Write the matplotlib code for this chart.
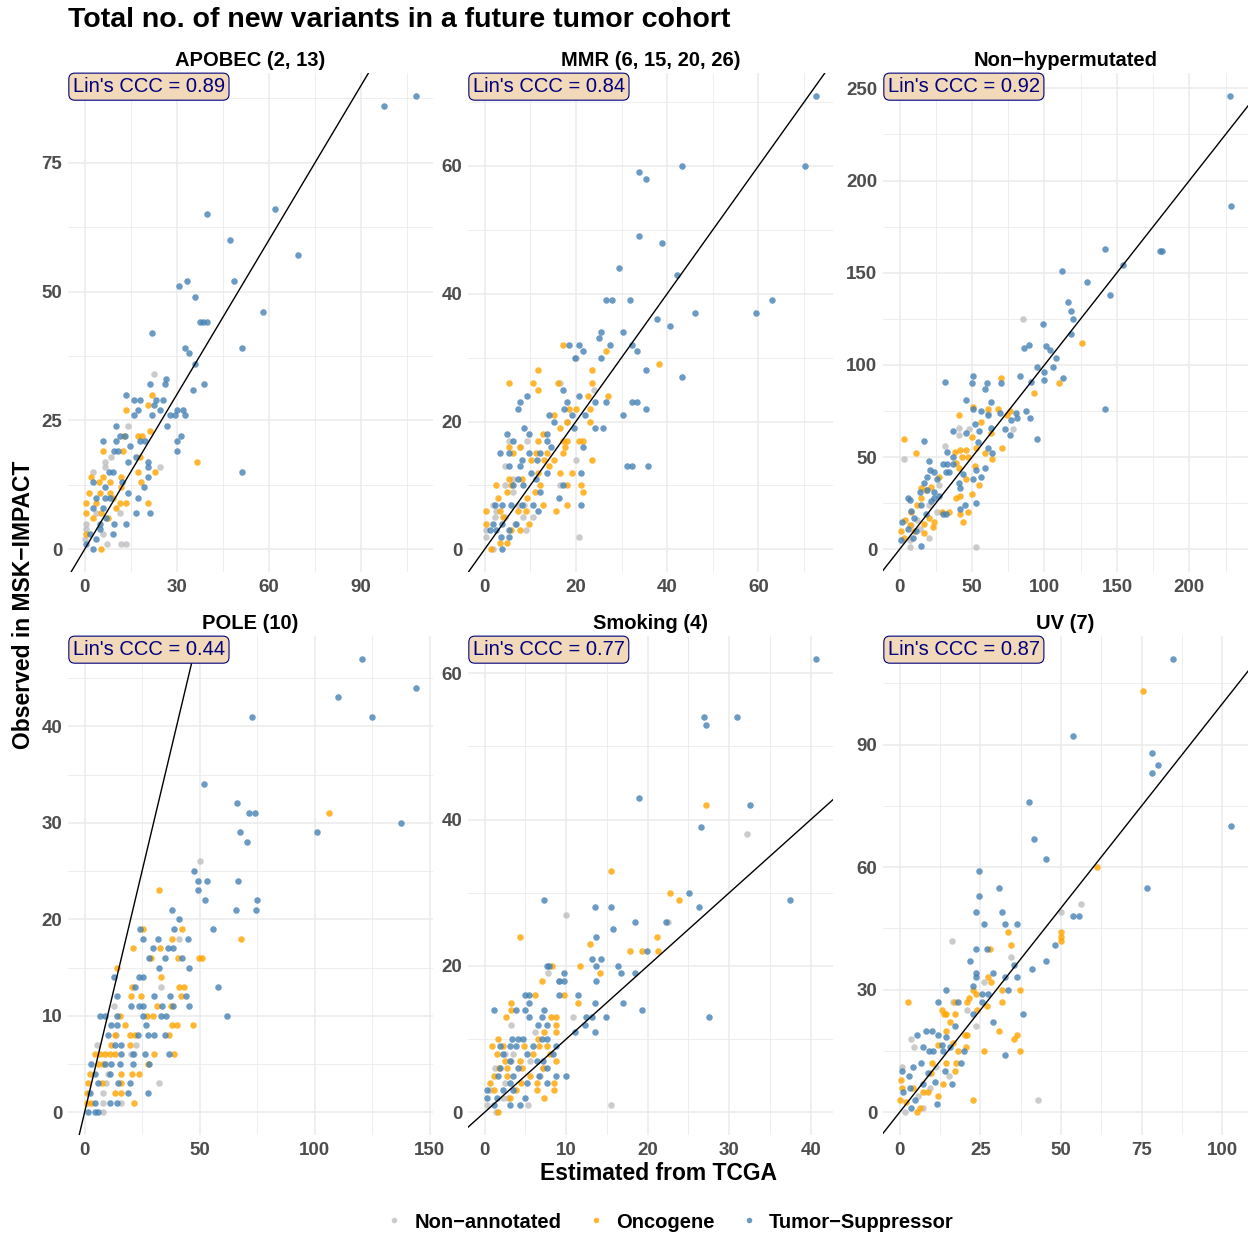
import numpy as np
import matplotlib
matplotlib.use("Agg")
import matplotlib.pyplot as plt
from matplotlib.ticker import FixedLocator, AutoMinorLocator
from matplotlib.lines import Line2D

plt.rcParams['font.family'] = ['Liberation Sans', 'DejaVu Sans']

# categories and colours
categories = ['Non\u2212annotated', 'Oncogene', 'Tumor\u2212Suppressor']
cat_colors = ['#BEBEBE', '#FFA500', '#4682B4']

panel_titles = ['APOBEC (2, 13)', 'MMR (6, 15, 20, 26)', 'Non\u2212hypermutated',
                'POLE (10)', 'Smoking (4)', 'UV (7)']
ccc_values = [0.89, 0.84, 0.92, 0.44, 0.77, 0.87]
x_ticks = [[0, 30, 60, 90], [0, 20, 40, 60], [0, 50, 100, 150, 200],
           [0, 50, 100, 150], [0, 10, 20, 30, 40], [0, 25, 50, 75, 100]]
y_ticks = [[0, 25, 50, 75], [0, 20, 40, 60], [0, 50, 100, 150, 200, 250],
           [0, 10, 20, 30, 40], [0, 20, 40, 60], [0, 30, 60, 90]]

apobec_na = [(22.7, 34), (14, 24), (24.7, 16), (8.7, 18), (6.7, 17), (6.7, 16), (2.7, 15), (12, 1), (13.4, 1),
             (7.4, 1), (0.5, 5), (0.5, 4), (3.6, 7), (11.4, 7), (0, 2), (6, 3)]
apobec_onc = [(36.7, 17), (22.1, 30), (13.4, 27), (20.7, 28), (21.3, 23), (17.4, 22), (18.7, 22), (12.8, 22),
              (6, 19), (12.5, 19), (17.9, 18), (22.8, 15), (17.4, 15), (2.2, 14), (6, 14), (4.6, 13), (8.2, 13),
              (18.5, 13), (12, 14), (12, 12), (1.4, 11), (4.9, 11), (8.2, 11), (20.7, 9), (0.5, 9), (3.8, 9),
              (0.5, 7), (5.4, 7), (2.7, 6), (7.6, 6), (0.5, 3), (5.4, 0), (11.4, 9), (13.6, 9), (9.2, 10), (10.3, 8)]
apobec_ts = [(108, 88), (97.3, 86), (62, 66), (40, 65), (47.4, 60), (69.3, 57), (30.8, 51), (33.3, 52), (48.7, 52),
             (36, 49), (58, 46), (22, 42), (37.5, 44), (38.6, 44), (40, 44), (32.7, 39), (34.1, 38), (51.3, 39),
             (36, 36), (26.6, 33), (26.1, 32), (21.3, 32), (35.3, 31), (38.8, 32), (13.4, 30), (16, 29), (17.9, 29),
             (23.4, 29), (25.4, 29), (22.7, 28), (24.7, 27), (17.4, 27), (16, 26), (22.1, 26), (27.7, 26), (29.3, 26),
             (30, 27), (32.1, 27), (32.7, 26), (26.7, 24), (10.1, 24), (11.4, 22), (13.2, 22), (6.1, 21), (10.1, 21),
             (17.9, 21), (19.6, 21), (31.4, 22), (30, 21), (30, 19), (51.3, 15), (14.7, 20), (9.6, 19), (10.9, 19),
             (16.8, 18), (14, 17), (20.7, 17), (20.7, 16), (20.7, 14), (19.3, 12), (17.4, 10), (16.8, 7), (21.3, 7),
             (14, 11), (7.9, 15), (9.2, 15), (2.7, 13), (3.6, 10), (6.5, 10), (8.2, 10), (2.7, 8), (6, 8), (9.5, 5),
             (2.7, 0), (0.5, 1), (1.6, 3), (4.9, 4), (3.8, 2), (9.2, 3), (6.7, 12), (12.3, 13), (7, 6), (4.9, 5),
             (13.4, 5)]

mmr_na = [(20, 30), (16.6, 26), (23.9, 25), (18.1, 20), (5.3, 17), (7.8, 16), (9.3, 17), (20, 14), (4.4, 13),
          (6.3, 11), (4.4, 10), (16.6, 10), (6.3, 9), (1.8, 7), (7.4, 7), (8.7, 7), (10.7, 5), (2.2, 5), (4.4, 5),
          (8.4, 5), (0.4, 3), (0.4, 2), (9, 3), (1.8, 0), (20.6, 2), (2.4, 6), (6.6, 4)]
mmr_onc = [(17.1, 32), (26.5, 31), (38.3, 29), (11.7, 28), (23.5, 28), (5.3, 26), (10.7, 26), (16.1, 26),
           (23.5, 26), (11.7, 25), (22.6, 24), (27, 24), (20, 22), (18.6, 22), (23, 22), (15.2, 21), (23, 20),
           (18.1, 20), (16.6, 19), (12.7, 18), (11.7, 17), (20.6, 17), (21.6, 17), (17.1, 17), (18.1, 17), (5.3, 16),
           (7.8, 16), (17.6, 16), (6.3, 15), (11.2, 15), (13.6, 15), (17.1, 15), (23.5, 14), (10.2, 14), (13.1, 14),
           (15.2, 14), (14.1, 13), (11.7, 12), (16.6, 12), (19.1, 12), (8.3, 11), (5.3, 11), (2.4, 10), (5.8, 10),
           (12.2, 10), (18.1, 10), (21.1, 10), (21.6, 9), (2.9, 8), (4.9, 9), (9.2, 8), (11.1, 9), (18.1, 7),
           (15.7, 6), (12.8, 7), (0.4, 6), (3.3, 6), (7.3, 6), (9.1, 6), (9.8, 4), (0.4, 4), (5.8, 3), (7.7, 3),
           (3.3, 1), (4.9, 1), (1.3, 0), (4, 5)]
mmr_ts = [(72.7, 71), (70.3, 60), (43.2, 60), (33.9, 59), (35.3, 58), (33.9, 49), (38.8, 48), (29.4, 44), (42.2, 43),
          (26.5, 39), (28, 39), (31.9, 39), (62.9, 39), (46.1, 37), (59.5, 37), (37.8, 36), (40.7, 35), (30.4, 34),
          (25.5, 34), (25, 33), (27.5, 32), (32.4, 32), (18.6, 32), (20.6, 32), (21.6, 31), (33.4, 31), (19.7, 30),
          (25.5, 30), (35.4, 28), (43.2, 27), (17.1, 25), (20.6, 24), (9.3, 24), (7.8, 23), (7.3, 22), (18.1, 23),
          (17.3, 22), (24.1, 23), (26.5, 23), (32.4, 23), (33.4, 23), (35.4, 22), (30.4, 21), (14.2, 21), (19.2, 21),
          (15.2, 20), (21.9, 21), (24.1, 19), (26, 19), (19.5, 19), (8.7, 19), (4.9, 18), (9.7, 18), (13.7, 18),
          (13.7, 17), (6.2, 17), (21.5, 16), (14.6, 16), (3.3, 15), (5.3, 15), (9.7, 15), (12.2, 15), (8.2, 14),
          (11.4, 14), (31.3, 13), (32.4, 13), (35.8, 13), (5.3, 13), (7.8, 13), (21.1, 12), (10.2, 12), (13.7, 12),
          (7.3, 11), (11.3, 11), (12.2, 9), (16.2, 8), (17.1, 10), (21.1, 7), (2.3, 7), (3.9, 7), (5.8, 7), (8.2, 7),
          (10.6, 7), (11.7, 6), (1.8, 4), (3.9, 4), (5.3, 3), (3.6, 2), (5.3, 2), (3.9, 0), (2.4, 3), (1.1, 3),
          (6.2, 10), (8.4, 10), (6.9, 4)]

nonhyp_na = [(85, 125), (3, 49), (31, 56), (41, 66), (41, 62), (48, 65), (78, 65), (61, 74), (53, 1), (7, 1),
             (20, 6), (26, 20), (27, 35), (14, 11), (8, 13), (7, 5), (12, 16), (20, 24)]
nonhyp_onc = [(126, 112), (110, 90), (93, 85), (70, 93), (51, 77), (61, 76), (68, 76), (76, 75), (74, 73), (41, 73),
              (56, 69), (63, 63), (50, 61), (53, 55), (71, 55), (3, 60), (11, 52), (59, 52), (64, 49), (38, 53),
              (42, 54), (46, 54), (43, 50), (47, 50), (39, 47), (52, 45), (41, 44), (46, 38), (55, 35), (27, 39),
              (22, 34), (15, 33), (18, 32), (50, 30), (42, 29), (39, 28), (47, 20), (42, 19), (44, 15), (15, 28),
              (12, 24), (8, 20), (20, 17), (17, 14), (23, 12), (24, 15), (4, 16), (1, 10), (10, 10), (3, 6), (17, 9),
              (29, 20), (34, 20), (7, 13)]
nonhyp_ts = [(228, 246), (229, 186), (142, 163), (180, 162), (181, 162), (154, 154), (112, 151), (129, 145),
             (145, 138), (116, 134), (118, 129), (120, 125), (118, 117), (99, 122), (86, 109), (89, 111), (101, 110),
             (104, 108), (108, 104), (95, 99), (106, 99), (100, 96), (100, 92), (113, 93), (83, 94), (91, 91),
             (51, 94), (50, 90), (60, 90), (59, 87), (70, 90), (31, 91), (46, 81), (63, 80), (142, 76), (51, 76),
             (56, 75), (69, 74), (61, 73), (80, 74), (87, 75), (81, 71), (90, 71), (77, 70), (52, 68), (63, 66),
             (73, 65), (55, 64), (37, 64), (46, 63), (76, 62), (95, 60), (17, 59), (54, 58), (61, 55), (64, 52),
             (59, 44), (20, 48), (33, 53), (37, 50), (30, 46), (33, 46), (37, 46), (53, 43), (56, 39), (51, 38),
             (44, 41), (41, 36), (42, 33), (17, 36), (21, 43), (24, 42), (32, 42), (34, 42), (19, 39), (26, 38),
             (53, 25), (45, 24), (42, 22), (30, 19), (32, 19), (6, 28), (7, 27), (14, 31), (19, 32), (24, 31),
             (24, 28), (15, 24), (8, 21), (2, 15), (6, 11), (1, 5), (9, 6), (15, 2), (11, 10), (22, 26), (27, 29),
             (10, 17), (18, 19)]

pole_na = [(50.1, 26), (41.1, 18), (33.3, 13), (12.7, 11), (5.2, 7), (22.5, 7), (13.6, 8), (20.3, 6), (10.2, 4),
           (32.3, 3), (8.1, 2), (16, 1), (8.1, 1), (8.1, 0), (21.5, 6), (9.5, 3)]
pole_onc = [(106.2, 31), (32.2, 23), (68, 18), (25.3, 19), (20.9, 17), (32.8, 17), (38.1, 18), (42.3, 19), (14, 15),
            (33.3, 14), (20.8, 13), (28.7, 16), (40.5, 16), (49.6, 16), (50.9, 16), (41, 13), (43.1, 13), (20.3, 12),
            (24.4, 12), (42, 12), (31.5, 11), (37.7, 11), (15.2, 10), (27, 10), (29.9, 10), (17.7, 9), (37.8, 9),
            (40.3, 9), (47.3, 9), (13.1, 8), (19.6, 8), (21.8, 8), (36.8, 8), (11.7, 7), (19.6, 7), (4.5, 6),
            (6.6, 6), (8.8, 6), (11, 6), (13.1, 6), (30.2, 6), (38.8, 6), (5.9, 5), (8.1, 5), (27.6, 5), (2.3, 4),
            (15.7, 4), (20.6, 4), (23.5, 4), (1.6, 3), (7.4, 3), (16, 3), (0.9, 2), (13.1, 2), (16, 2), (0.9, 1),
            (3, 1), (21.5, 1)]
pole_ts = [(120.6, 47), (144.3, 44), (110, 43), (125, 41), (72.6, 41), (51.8, 34), (66.2, 32), (71.6, 31), (73.9, 31),
           (137.7, 30), (100.9, 29), (67.5, 29), (70.6, 28), (47.5, 25), (49.4, 24), (53.2, 24), (66.7, 24),
           (49.4, 23), (52.4, 22), (75, 22), (38.2, 21), (65.7, 21), (74.5, 21), (41.1, 20), (38.7, 19), (55.8, 19),
           (24.2, 19), (25.5, 18), (31.9, 18), (44.9, 18), (29.9, 17), (36.2, 17), (38.4, 17), (28, 16), (34.8, 16),
           (42.3, 16), (32.3, 15), (45.5, 15), (23.8, 14), (25.5, 14), (12.6, 14), (57.9, 13), (21.8, 13),
           (13.9, 12), (30.3, 12), (37.2, 12), (44.2, 12), (20, 11), (23.5, 11), (25.5, 11), (33.8, 11), (38.4, 11),
           (45.6, 11), (6.8, 10), (8.8, 10), (13.9, 10), (25.5, 10), (33.3, 10), (35.5, 10), (61.8, 10), (11.7, 9),
           (13.9, 9), (26.6, 9), (10, 8), (23.2, 8), (27.6, 8), (30.4, 8), (34.8, 8), (13.1, 7), (16, 7), (26.4, 6),
           (36.7, 6), (16, 6), (21.1, 6), (3, 5), (8.8, 5), (11.7, 5), (15.3, 5), (21.1, 5), (28, 5), (4.5, 4),
           (11, 4), (5.9, 3), (14.6, 3), (19.6, 3), (27.4, 2), (2.3, 2), (18.9, 2), (4.5, 1), (11, 1), (13.9, 1),
           (1.6, 0), (4.5, 0), (5.9, 0)]

smoking_na = [(32.2, 38), (10, 27), (22.5, 26), (7.8, 19), (9.1, 18), (10.9, 13), (3.2, 12), (6.2, 11), (2.5, 8),
              (3.5, 8), (3.2, 7), (5.6, 7), (1.3, 6), (7.2, 6), (6.8, 5), (2.5, 4), (0.7, 3), (2.3, 2), (2.9, 2),
              (15.5, 1), (5.3, 1), (1.4, 0), (0.3, 1)]
smoking_onc = [(27.2, 42), (15.5, 33), (22.8, 30), (23.9, 29), (4.4, 24), (21.1, 24), (12.9, 23), (17.8, 22),
               (19.3, 22), (21.3, 22), (11.7, 20), (14.1, 19), (8.3, 20), (7, 18), (9.7, 16), (6.2, 16), (11.4, 15),
               (3.2, 15), (3.2, 14), (2.6, 13), (8.2, 13), (8.8, 13), (8.8, 12), (7.3, 11), (8.8, 11), (1.7, 10),
               (6.5, 10), (0.9, 9), (2.3, 9), (4.8, 9), (6.7, 9), (7.6, 9), (1.5, 8), (5.9, 8), (8, 8), (2.5, 7),
               (4.3, 7), (8.8, 7), (1.8, 6), (2.7, 6), (4.6, 6), (7.2, 6), (1.1, 5), (2.7, 5), (5.6, 5), (0.7, 4),
               (4.5, 4), (6.4, 4), (8.5, 4), (1.1, 3), (3.9, 3), (6.4, 3), (8.5, 3), (7.3, 2), (1.7, 0), (3.1, 2)]
smoking_ts = [(40.7, 62), (26.9, 54), (27.2, 53), (31, 54), (19, 43), (32.5, 42), (26.6, 39), (37.4, 29), (25.1, 30),
              (26.3, 28), (13.5, 28), (15.5, 28), (7.3, 29), (18.5, 26), (22.2, 26), (15.8, 25), (13.7, 24),
              (19.9, 22), (13.2, 21), (14.3, 21), (16.4, 20), (13.7, 20), (16.7, 19), (18.5, 19), (13.7, 18),
              (9.7, 19), (9.8, 18), (7.6, 20), (7.9, 20), (9.1, 18), (9.1, 16), (11.4, 16), (13.5, 15), (17, 15),
              (19.3, 14), (27.5, 13), (14.9, 13), (12.4, 13), (13.2, 13), (12.3, 12), (11.1, 11), (13.5, 11), (5, 16),
              (5.5, 16), (5.5, 15), (3.9, 14), (5, 14), (7.3, 14), (1.2, 14), (5.5, 13), (7, 13), (6.5, 12),
              (7.6, 12), (3.4, 10), (4.1, 10), (4.7, 10), (7, 10), (7.6, 10), (1.9, 9), (3.1, 9), (3.9, 9), (5.9, 9),
              (8.8, 9), (2.3, 8), (5.2, 8), (8.4, 8), (3.1, 7), (6.4, 7), (7.2, 7), (1.9, 6), (4.1, 6), (7.6, 6),
              (8.8, 5), (10, 5), (1.7, 5), (3.5, 5), (6.7, 5), (3.1, 4), (5.2, 4), (7.6, 4), (0.3, 3), (2.3, 3),
              (3.5, 3), (0.3, 2), (1.5, 2), (5, 2), (1.1, 1), (3.1, 1), (4.4, 1)]

uv_na = [(16.3, 42), (56.3, 51), (50, 49), (34.5, 38), (26.3, 32), (16.5, 27), (21, 25), (23.7, 21), (3.5, 18),
         (4.5, 16), (15.4, 9), (11.4, 11), (42.8, 3), (1.6, 0), (9.3, 6), (5.7, 4), (0.7, 11), (7.1, 1)]
uv_onc = [(75.5, 103), (61.1, 60), (33.6, 44), (34.5, 41), (28.1, 40), (50, 44), (50, 43), (50, 42), (27.3, 33),
          (28.2, 32), (22.6, 30), (23.7, 29), (31.8, 30), (37.3, 30), (31.8, 27), (21.6, 28), (21, 27), (27.2, 26),
          (24.1, 25), (13, 25), (13.7, 24), (14.5, 24), (17.2, 27), (17.1, 24), (15.6, 22), (14.5, 20), (2.6, 27),
          (20.3, 19), (21, 19), (30.9, 20), (36.3, 19), (35.5, 18), (20.7, 16), (26.2, 15), (37.3, 15), (18.2, 15),
          (16.4, 17), (11.9, 16.5), (17.6, 12), (17.1, 10), (9.9, 12), (14.3, 12), (13.5, 7), (9.8, 9.5), (0.5, 8),
          (0.8, 6), (8.8, 5), (11.8, 4), (0, 3), (2.1, 2.6), (5.4, 0), (6.2, 1), (22.7, 3), (4.1, 6), (7.1, 5)]
uv_ts = [(84.6, 111), (53.6, 92), (78.3, 88), (80.1, 85), (78.2, 83), (40, 76), (41.7, 67), (102.8, 70), (45.5, 62),
         (76.5, 55), (24.5, 59), (24.5, 53), (30.9, 55), (23.7, 49), (31.8, 49), (53.6, 48), (55.5, 48), (26.2, 46),
         (32.7, 46), (36.3, 46), (48.2, 41), (45.5, 37), (27.1, 40), (23.7, 40), (21.8, 37), (40.9, 35), (35.5, 36),
         (23.7, 34), (23.7, 33), (29, 34), (32.7, 33), (36.3, 33), (22.6, 31), (14.5, 30), (33.7, 30), (25.4, 29),
         (27.3, 29), (25.4, 27), (11.8, 27), (18.2, 27), (38.2, 24), (29, 22), (22.6, 24), (32.7, 14), (17.2, 21),
         (5.4, 19), (8.1, 20), (10, 20), (11.9, 19), (14.5, 18.5), (7.3, 16), (13, 16.5), (9.1, 15), (10.4, 15),
         (13.5, 15), (20, 15), (15.6, 16), (19, 12), (16.3, 7), (11.7, 2), (0.7, 10), (2.8, 9), (4.1, 11),
         (6.7, 12), (3.1, 6), (7.3, 7), (10.9, 7.5), (1, 5), (4.7, 3), (3.6, 1), (8.8, 9.5), (14, 10)]

panel_data = [
    [apobec_na, apobec_onc, apobec_ts],
    [mmr_na, mmr_onc, mmr_ts],
    [nonhyp_na, nonhyp_onc, nonhyp_ts],
    [pole_na, pole_onc, pole_ts],
    [smoking_na, smoking_onc, smoking_ts],
    [uv_na, uv_onc, uv_ts],
]

W, H = 1250, 1234
fig = plt.figure(figsize=(W / 100, H / 100), dpi=100)

col_left = [68, 468, 883]
row_top = [73, 636]
pw, ph = 365, 499

grid_col = '#EBEBEB'
tick_col = '#4D4D4D'

for i in range(6):
    r, c = divmod(i, 3)
    x0 = col_left[c] / W
    y0 = 1 - (row_top[r] + ph) / H
    ax = fig.add_axes([x0, y0, pw / W, ph / H])

    for pts, col in zip(panel_data[i], cat_colors):
        arr = np.array(pts)
        ax.scatter(arr[:, 0], arr[:, 1], s=22, color=col, alpha=0.8, linewidths=0, zorder=3)

    ax.margins(0.05)
    ax.autoscale_view()
    ax.axline((0, 0), slope=1, color='black', lw=1.0, zorder=4)

    ax.xaxis.set_major_locator(FixedLocator(x_ticks[i]))
    ax.yaxis.set_major_locator(FixedLocator(y_ticks[i]))
    ax.xaxis.set_minor_locator(AutoMinorLocator(2))
    ax.yaxis.set_minor_locator(AutoMinorLocator(2))
    ax.grid(which='major', color=grid_col, lw=1.1, zorder=0)
    ax.grid(which='minor', color=grid_col, lw=0.6, zorder=0)
    ax.set_axisbelow(True)
    ax.tick_params(which='both', length=0)
    ax.tick_params(axis='x', pad=5, labelsize=13.5, labelcolor=tick_col)
    ax.tick_params(axis='y', pad=4, labelsize=13.5, labelcolor=tick_col)
    for lab in ax.get_xticklabels() + ax.get_yticklabels():
        lab.set_fontweight('bold')
    for sp in ax.spines.values():
        sp.set_visible(False)

    ax.set_title(panel_titles[i], fontsize=14.5, fontweight='bold', pad=5)
    ax.annotate(f"Lin's CCC = {ccc_values[i]:.2f}", xy=(0, 1), xycoords='axes fraction',
                xytext=(3.5, -3), textcoords='offset points', ha='left', va='top',
                fontsize=14.5, color='#000080', zorder=6,
                bbox=dict(boxstyle='round,pad=0.2,rounding_size=0.3', fc='#F2D9B9', ec='#000080', lw=0.8))

fig.text(68 / W, 1 - 20 / H, 'Total no. of new variants in a future tumor cohort',
         fontsize=20.5, fontweight='bold', ha='left', va='center')
fig.text(658 / W, 1 - 1174 / H, 'Estimated from TCGA', fontsize=16.5, fontweight='bold',
         ha='center', va='center')
fig.text(24 / W, 1 - 605 / H, 'Observed in MSK\u2212IMPACT', fontsize=16.5, fontweight='bold',
         ha='center', va='center', rotation=90)

handles = [Line2D([], [], marker='o', ls='', color=c, alpha=0.8, markersize=4, markeredgewidth=0)
           for c in cat_colors]
fig.legend(handles, categories, loc='center', bbox_to_anchor=(669 / W, 1 - 1222 / H), ncol=3,
           frameon=False, prop={'size': 14.5, 'weight': 'bold'}, handletextpad=0.5,
           columnspacing=1.2, handlelength=1.0)

fig.savefig('out.png', dpi=100)
